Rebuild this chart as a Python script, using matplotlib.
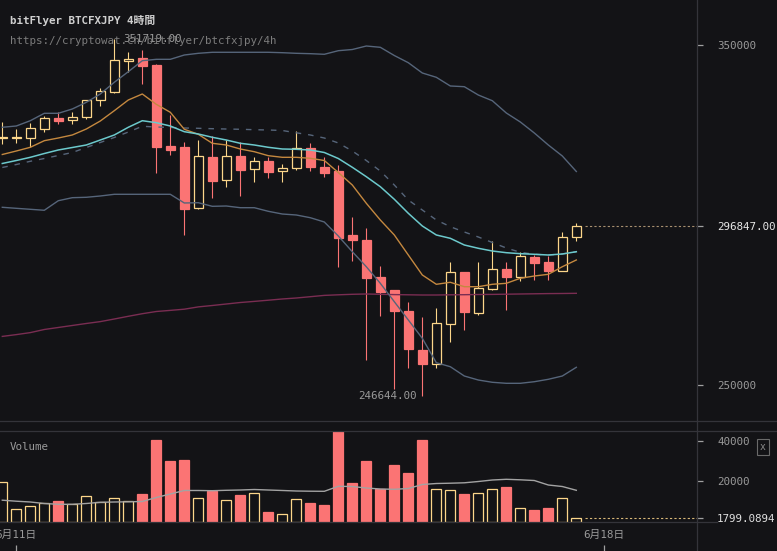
import numpy as np
import matplotlib.pyplot as plt
from matplotlib.lines import Line2D

plt.rcParams['font.family'] = ['DejaVu Sans Mono', 'Noto Sans CJK JP']

bg = '#131316'
up_col = '#fcd68a'
down_col = '#fb7474'
grid_col = '#34343a'
text_col = '#9a9a9a'

# 4h candles, bitFlyer BTCFXJPY
opens = [322600, 322700, 322770, 325250, 328580, 327900, 328780, 333790, 336150, 345460,
         346170, 344200, 320320, 320030, 301960, 317080, 310220, 317380, 313460, 315900,
         312870, 313750, 319650, 314140, 312960, 294100, 292620, 281720, 277890, 271700,
         260210, 256170, 267780, 283100, 271200, 278270, 284020, 281840, 287610, 286050,
         283570, 293420]
highs = [327500, 325250, 327190, 329170, 330430, 330260, 334000, 337420, 351719, 348110,
         348620, 344490, 329460, 321500, 322090, 323270, 322090, 321420, 317080, 316990,
         315020, 324740, 321120, 317170, 314730, 299400, 296160, 285050, 278000, 274440,
         270020, 272500, 286050, 283200, 286050, 292320, 286050, 289090, 288290, 287910,
         294980, 297550]
lows = [320900, 321100, 319940, 324540, 326720, 326900, 328190, 332200, 336000, 342040,
        338510, 312280, 317670, 294100, 301900, 304910, 308330, 305680, 309800, 310980,
        309800, 313250, 313040, 311280, 284760, 286530, 257260, 270230, 248800, 254990,
        246644, 254990, 262650, 266100, 270520, 277890, 271990, 280630, 280830, 280830,
        283500, 292420]
closes = [322900, 323000, 325540, 328490, 327780, 328780, 333790, 336440, 345580, 345870,
          343990, 320120, 319230, 301850, 317290, 310100, 317290, 313340, 315820, 312750,
          313840, 319650, 314220, 312460, 293300, 292710, 281510, 277390, 271700, 260500,
          256170, 268070, 283100, 271490, 278390, 284020, 281840, 287820, 285930, 283570,
          293420, 296847]
volumes = [19460, 6120, 7600, 9090, 10220, 8590, 12540, 9580, 11550, 10220,
           13680, 40340, 29970, 30470, 11550, 15160, 10580, 13180, 14000, 4770,
           3620, 11050, 9220, 8230, 46000, 19090, 30120, 15970, 27980, 24040,
           40340, 15980, 15490, 13680, 14170, 15980, 17130, 6590, 5760, 6750,
           11550, 1799.0894]
vol_ma = [10620, 10120, 9730, 8990, 8590, 8590, 8990, 9580, 9730, 9830,
          9980, 11950, 13680, 15410, 15410, 15310, 15510, 15650, 15900, 15650,
          15410, 15160, 15060, 15010, 17480, 17380, 16640, 16150, 16000, 16390,
          18370, 18860, 19010, 19210, 19850, 20590, 20940, 20690, 20340, 18120,
          17380, 15510]

bb_upper = [325840, 326220, 327780, 329960, 329960, 331230, 333200, 335650, 339100, 342220,
            345460, 345870, 345870, 347140, 347640, 347940, 347940, 347940, 347940, 347940,
            347820, 347640, 347530, 347350, 348410, 348760, 349790, 349410, 346990, 344870,
            341840, 340570, 338010, 337800, 335350, 333670, 330050, 327400, 324160, 320620,
            317380, 312810]
bb_lower = [302260, 301960, 301670, 301380, 304200, 305090, 305210, 305590, 306090, 306090,
            306090, 306090, 306090, 303530, 303610, 302550, 302640, 302140, 302140, 301080,
            300280, 299990, 299190, 297930, 293800, 289170, 284750, 279860, 274440, 269050,
            263650, 256460, 255280, 252540, 251360, 250690, 250390, 250390, 250860, 251570,
            252540, 255110]
bb_mid = [313990, 314870, 315820, 316640, 317520, 318410, 319880, 321360, 322830, 324450,
          326130, 325920, 325780, 325630, 325540, 325420, 325330, 325250, 325130, 325040,
          324890, 324210, 323570, 322680, 321210, 318850, 316050, 312960, 308830, 304410,
          301460, 298520, 296540, 294980, 293510, 291890, 290260, 289000, 288410, 288200,
          288500, 289170]
ma_cyan = [315170, 316050, 316990, 318110, 319150, 319880, 320620, 322090, 323570, 325840,
           327780, 327190, 326220, 324540, 323860, 322890, 322090, 321120, 320620, 319940,
           319440, 319350, 319150, 318410, 316640, 314050, 311280, 308330, 304620, 300490,
           296750, 294100, 293120, 291150, 290180, 289380, 288880, 288590, 288410, 288200,
           288500, 289170]
ma_orange = [317820, 318850, 319940, 321890, 322680, 323570, 325330, 327690, 330730, 333880,
             335650, 332610, 330260, 325250, 323770, 321120, 320620, 319440, 318640, 317470,
             316990, 316990, 316700, 316050, 312510, 308830, 303440, 298520, 294100, 288200,
             282310, 279570, 280160, 278860, 278860, 279570, 279860, 281340, 282010, 282510,
             284750, 286730]
ma_long = [264210, 264740, 265330, 266250, 266840, 267430, 268020, 268570, 269340, 270140,
           270900, 271550, 271880, 272230, 272910, 273320, 273760, 274200, 274530, 274880,
           275240, 275530, 275910, 276300, 276470, 276620, 276710, 276620, 276530, 276470,
           276410, 276410, 276470, 276500, 276560, 276590, 276650, 276710, 276770, 276830,
           276860, 276910]

last_price = 296847.00
last_volume = 1799.0894
high_price = 351719.00
low_price = 246644.00
price_ticks = [250000, 350000]
volume_ticks = [20000, 40000]
date_ticks = [1, 43]
date_labels = ['6月11日', '6月18日']

o = np.array(opens, float)
h = np.array(highs, float)
l = np.array(lows, float)
c = np.array(closes, float)
idx = np.arange(len(o))
up = c >= o

W, H = 777, 551
fig = plt.figure(figsize=(W / 100, H / 100), dpi=100, facecolor=bg)

x0, x1 = -0.164, 49.62
axw = 697 / W
ax = fig.add_axes([0, 1 - 421 / H, axw, 421 / H], facecolor=bg)
axv = fig.add_axes([0, 1 - 521.7 / H, axw, 90.7 / H], facecolor=bg, sharex=ax)
axt = fig.add_axes([0, 0, axw, 29.3 / H], facecolor='none', sharex=ax)

# candles
body_lo = np.minimum(o, c)
body_hi = np.maximum(o, c)
for i in idx:
    col = up_col if up[i] else down_col
    if up[i]:
        ax.vlines(i, l[i], body_lo[i], color=col, lw=0.8, zorder=2)
        ax.vlines(i, body_hi[i], h[i], color=col, lw=0.8, zorder=2)
    else:
        ax.vlines(i, l[i], h[i], color=col, lw=0.8, zorder=2)
hgt = np.maximum(body_hi - body_lo, 250)
ax.bar(idx, hgt, bottom=body_lo, width=0.66,
       color=np.where(up, bg, down_col), edgecolor=np.where(up, up_col, down_col),
       linewidth=0.9, zorder=3)

# indicators
ax.plot(idx, ma_long, color='#7a2d52', lw=1.0, zorder=4)
ax.plot(idx, bb_upper, color='#56657a', lw=1.0, zorder=4)
ax.plot(idx, bb_lower, color='#56657a', lw=1.0, zorder=4)
ax.plot(idx, bb_mid, color='#56657a', lw=1.0, ls=(0, (4, 5)), zorder=4)
ax.plot(idx, ma_orange, color='#c4883f', lw=1.0, zorder=5)
ax.plot(idx, ma_cyan, color='#6cc9cc', lw=1.1, zorder=5)

ax.hlines(last_price, idx[-1] + 0.6, x1, color='#a89070', lw=0.8, ls=(0, (2, 2)), zorder=2)

ax.text(idx[8] + 0.62, high_price, f'{high_price:.2f}', color=text_col, fontsize=7.8,
        va='center', ha='left', zorder=6)
ax.text(idx[30] - 0.42, low_price, f'{low_price:.2f}', color=text_col, fontsize=7.8,
        va='center', ha='right', zorder=6)

ax.set_xlim(x0, x1)
ax.set_ylim(239281, 363350)
ax.yaxis.tick_right()
ax.set_yticks(price_ticks + [last_price])
ax.set_yticklabels([str(t) for t in price_ticks] + [f'{last_price:.2f}'])
ax.tick_params(axis='y', length=4.5, width=0.9, pad=10, color='#a0a0a0',
               labelcolor=text_col, labelsize=7.8)
ax.get_yticklabels()[-1].set_color('#e8e8e8')
ax.tick_params(axis='x', bottom=False, labelbottom=False)
for s in ax.spines.values():
    s.set_visible(False)

# volume
axv.bar(idx, volumes, width=0.7, color=np.where(up, 'none', down_col),
        edgecolor=np.where(up, up_col, down_col), linewidth=0.9, zorder=2)
axv.plot(idx, vol_ma, color='#a3a3a3', lw=1.0, zorder=3)
axv.hlines(last_volume, idx[-1] + 0.6, x1, color='#d9b878', lw=0.8, ls=(0, (2, 2)), zorder=2)
axv.set_ylim(0, 44790)
axv.yaxis.tick_right()
axv.set_yticks([last_volume] + volume_ticks)
axv.set_yticklabels([f'{last_volume:.4f}'] + [str(t) for t in volume_ticks])
axv.tick_params(axis='y', length=4.5, width=0.9, pad=10, color='#a0a0a0',
                labelcolor=text_col, labelsize=7.8)
axv.yaxis.get_major_ticks()[0].tick2line.set_color(up_col)
axv.get_yticklabels()[0].set_color('#e0e0e0')
axv.tick_params(axis='x', bottom=False, labelbottom=False)
for s in axv.spines.values():
    s.set_visible(False)

# time axis
axt.set_yticks([])
axt.set_xticks(date_ticks)
axt.set_xticklabels(date_labels)
axt.tick_params(axis='x', direction='in', length=4, width=0.9, pad=-15,
                color='#a0a0a0', labelcolor=text_col, labelsize=7.8)
for s in axt.spines.values():
    s.set_visible(False)

# panel separators
for y in (421, 431):
    fig.add_artist(Line2D([0, 1], [1 - y / H] * 2, color=grid_col, lw=0.9))
fig.add_artist(Line2D([0, 717 / W], [1 - 521.7 / H] * 2, color=grid_col, lw=0.9))
fig.add_artist(Line2D([axw, axw], [0, 1], color=grid_col, lw=0.9))

fig.text(10 / W, 1 - 21 / H, 'bitFlyer BTCFXJPY 4時間', color='#cfcfcf', fontsize=7.8,
         fontweight='bold', va='center', ha='left')
fig.text(10 / W, 1 - 41 / H, 'https://cryptowat.ch/bitflyer/btcfxjpy/4h', color='#7c7c7c',
         fontsize=7.8, va='center', ha='left')
fig.text(10 / W, 1 - 447 / H, 'Volume', color=text_col, fontsize=7.8, va='center', ha='left')
fig.text(763 / W, 1 - 447 / H, 'x', color='#8a8a8a', fontsize=7, va='center', ha='center',
         bbox=dict(boxstyle='square,pad=0.35', fc='none', ec='#6a6a6a', lw=0.8))

fig.savefig('out.png', dpi=100, facecolor=bg)
